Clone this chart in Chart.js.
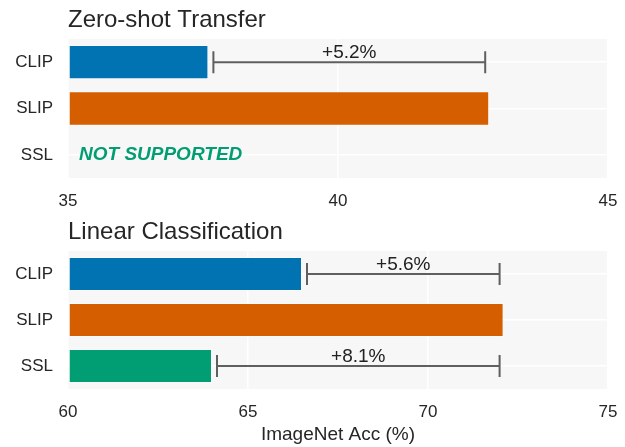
<!DOCTYPE html>
<html>
<head>
<meta charset="utf-8">
<script src="https://cdn.jsdelivr.net/npm/chart.js@4.4.0/dist/chart.umd.min.js"></script>
<style>
  html, body { margin: 0; padding: 0; background: #fff; }
  #wrap { position: relative; width: 625px; height: 447px; }
  canvas { position: absolute; left: 0; }
  #top { top: 0; }
  #bottom { top: 222px; }
</style>
</head>
<body>
<div id="wrap">
  <canvas id="top" width="625" height="222"></canvas>
  <canvas id="bottom" width="625" height="225"></canvas>
</div>
<script>
// -------- DATA --------
const categories = ["CLIP", "SLIP", "SSL"];
const zeroShotValues = [37.6, 42.8, null];   // SSL: not supported
const linearValues = [66.5, 72.1, 64.0];
const zeroShotTicks = [35, 40, 45];
const linearTicks = [60, 65, 70, 75];
const barColors = ["#0173b2", "#d55e00", "#029e73"];
const zeroShotCompare = ["CLIP"];          // brackets drawn up to SLIP
const linearCompare = ["CLIP", "SSL"];
const compareTarget = "SLIP";
const zeroShotTitle = "Zero-shot Transfer";
const linearTitle = "Linear Classification";
const xTitle = "ImageNet Acc (%)";
const missingText = "NOT SUPPORTED";

Chart.defaults.font.family = "'Liberation Sans', Arial, Helvetica, sans-serif";
Chart.defaults.color = "#262626";

const FONT = "'Liberation Sans', Arial, Helvetica, sans-serif";

// plot background + panel title
const panelPlugin = {
  id: "panel",
  beforeDraw(chart, args, opts) {
    const { ctx, chartArea: a } = chart;
    ctx.save();
    ctx.fillStyle = "#f7f7f7";
    ctx.fillRect(a.left, a.top, a.right - a.left, a.bottom - a.top);
    ctx.restore();
  },
  afterDraw(chart, args, opts) {
    const { ctx, chartArea: a } = chart;
    ctx.save();
    ctx.font = "24px " + FONT;
    ctx.fillStyle = "#262626";
    ctx.textAlign = "left";
    ctx.textBaseline = "middle";
    ctx.fillText(opts.title, a.left, a.top - 19);
    ctx.restore();
  }
};

// improvement brackets + "not supported" note
const gainPlugin = {
  id: "gain",
  afterDatasetsDraw(chart, args, opts) {
    const { ctx, chartArea: a } = chart;
    const xs = chart.scales.x, ys = chart.scales.y;
    const vals = chart.data.datasets[0].data;
    const ti = categories.indexOf(compareTarget);
    ctx.save();
    opts.compare.forEach(name => {
      const i = categories.indexOf(name);
      const x0 = xs.getPixelForValue(vals[i]) + 5;
      const x1 = xs.getPixelForValue(vals[ti]) - 4;
      const y = ys.getPixelForValue(i);
      ctx.strokeStyle = "#5f5f5f";
      ctx.lineWidth = 2;
      ctx.beginPath();
      ctx.moveTo(x0, y); ctx.lineTo(x1, y);
      ctx.moveTo(x0, y - 11); ctx.lineTo(x0, y + 11);
      ctx.moveTo(x1, y - 11); ctx.lineTo(x1, y + 11);
      ctx.stroke();
      ctx.font = "19px " + FONT;
      ctx.fillStyle = "#222";
      ctx.textAlign = "center";
      ctx.textBaseline = "alphabetic";
      ctx.fillText("+" + (vals[ti] - vals[i]).toFixed(1) + "%", (x0 + x1) / 2, y - 4);
    });
    vals.forEach((v, i) => {
      if (v !== null) return;
      ctx.font = "italic bold 19px " + FONT;
      ctx.fillStyle = barColors[i];
      ctx.textAlign = "left";
      ctx.textBaseline = "middle";
      ctx.fillText(missingText, a.left + 11, ys.getPixelForValue(i));
    });
    ctx.restore();
  }
};

function makeChart(el, values, ticks, title, compare, pad, xAxisHeight, showXTitle) {
  const lo = ticks[0], hi = ticks[ticks.length - 1];
  return new Chart(document.getElementById(el), {
    type: "bar",
    data: {
      labels: categories,
      datasets: [{
        data: values,
        base: lo,
        backgroundColor: barColors,
        borderColor: "rgba(255,255,255,0.55)",
        borderWidth: 1,
        borderSkipped: false,
        categoryPercentage: 1,
        barPercentage: 0.74
      }]
    },
    options: {
      indexAxis: "y",
      responsive: false,
      animation: false,
      layout: { padding: pad },
      plugins: {
        legend: { display: false },
        tooltip: { enabled: false },
        panel: { title },
        gain: { compare }
      },
      scales: {
        x: {
          min: lo, max: hi,
          afterBuildTicks: s => { s.ticks = ticks.map(v => ({ value: v })); },
          afterFit: s => { s.height = xAxisHeight; s.paddingLeft = 0; s.paddingRight = 0; },
          grid: { color: "#ffffff", lineWidth: 1.5, drawTicks: false },
          border: { display: false },
          ticks: { font: { size: 17 }, color: "#262626", padding: 13 },
          title: {
            display: showXTitle, text: xTitle,
            font: { size: 19 }, color: "#262626",
            padding: { top: 0, bottom: 1 }
          }
        },
        y: {
          afterFit: s => { s.width = 68; },
          grid: { color: "#ffffff", lineWidth: 1.5, drawTicks: false, offset: false },
          border: { display: false },
          ticks: { font: { size: 17 }, color: "#262626", padding: 15 }
        }
      }
    },
    plugins: [panelPlugin, gainPlugin]
  });
}

makeChart("top", zeroShotValues, zeroShotTicks, zeroShotTitle, zeroShotCompare,
  { top: 39, right: 17, left: 0, bottom: 0 }, 44, false);
makeChart("bottom", linearValues, linearTicks, linearTitle, linearCompare,
  { top: 29, right: 17, left: 0, bottom: 0 }, 58, true);
</script>
</body>
</html>
